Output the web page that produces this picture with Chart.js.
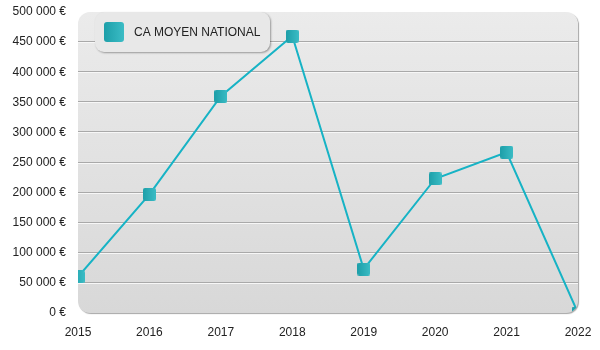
<!DOCTYPE html>
<html>
<head>
<meta charset="utf-8">
<script src="https://cdn.jsdelivr.net/npm/chart.js@4/dist/chart.umd.min.js"></script>
<style>
  html, body { margin: 0; padding: 0; background: #fff; }
  #wrap { width: 600px; height: 350px; }
</style>
</head>
<body>
<div id="wrap"><canvas id="caChart"></canvas></div>
<script>
const years = ['2015', '2016', '2017', '2018', '2019', '2020', '2021', '2022'];
const caMoyen = [60000, 197000, 360000, 460000, 73000, 223000, 267000, 0];
const seriesLabel = 'CA MOYEN NATIONAL';
const yMax = 500000;
const yStep = 50000;

const FONT = '"Liberation Sans", Arial, sans-serif';

function euros(v) {
    return String(v).replace(/\B(?=(\d{3})+(?!\d))/g, ' ') + ' €';
}

function roundRect(ctx, x, y, w, h, r) {
    ctx.beginPath();
    ctx.moveTo(x + r, y);
    ctx.lineTo(x + w - r, y);
    ctx.arcTo(x + w, y, x + w, y + r, r);
    ctx.lineTo(x + w, y + h - r);
    ctx.arcTo(x + w, y + h, x + w - r, y + h, r);
    ctx.lineTo(x + r, y + h);
    ctx.arcTo(x, y + h, x, y + h - r, r);
    ctx.lineTo(x, y + r);
    ctx.arcTo(x, y, x + r, y, r);
    ctx.closePath();
}

function tealGradient(ctx, x, y, size) {
    let g = ctx.createLinearGradient(x, y, x + size, y);
    g.addColorStop(0, '#1d9fa9');
    g.addColorStop(1, '#3bbcc5');
    return g;
}

// little rounded square used as the point marker
function makeMarker(size) {
    let c = document.createElement('canvas');
    c.width = size;
    c.height = size;
    let g = c.getContext('2d');
    g.fillStyle = tealGradient(g, 0, 0, size);
    roundRect(g, 0, 0, size, size, 2);
    g.fill();
    return c;
}

// grey rounded panel behind the plot, embossed grid lines, clipping and the legend box
const panel = {
    id: 'panel',
    beforeDraw(chart) {
        const { ctx, chartArea: a } = chart;
        ctx.save();
        ctx.shadowColor = 'rgba(0,0,0,0.35)';
        ctx.shadowOffsetX = 1;
        ctx.shadowOffsetY = 1;
        ctx.shadowBlur = 1;
        let bg = ctx.createLinearGradient(0, a.top, 0, a.bottom);
        bg.addColorStop(0, '#ebebeb');
        bg.addColorStop(1, '#d8d8d8');
        ctx.fillStyle = bg;
        roundRect(ctx, a.left, a.top, a.right - a.left, a.bottom - a.top, 12);
        ctx.fill();
        ctx.restore();

        const y = chart.scales.y;
        ctx.save();
        y.ticks.forEach(t => {
            if (t.value <= y.min || t.value >= y.max) return;
            let py = Math.round(y.getPixelForValue(t.value));
            ctx.fillStyle = '#a9a9a9';
            ctx.fillRect(a.left, py - 1, a.right - a.left, 1);
            ctx.fillStyle = '#f7f7f7';
            ctx.fillRect(a.left, py, a.right - a.left, 1);
        });
        ctx.restore();
    },
    beforeDatasetsDraw(chart) {
        const { ctx, chartArea: a } = chart;
        ctx.save();
        roundRect(ctx, a.left, a.top, a.right - a.left, a.bottom - a.top, 12);
        ctx.clip();
    },
    afterDatasetsDraw(chart) {
        chart.ctx.restore();
    },
    afterDraw(chart) {
        const { ctx, chartArea: a } = chart;
        const bx = a.left + 17, by = a.top, bw = 175, bh = 40;
        ctx.save();
        ctx.shadowColor = 'rgba(0,0,0,0.35)';
        ctx.shadowOffsetX = 1;
        ctx.shadowOffsetY = 1;
        ctx.shadowBlur = 2;
        ctx.fillStyle = '#e8e8e8';
        roundRect(ctx, bx, by, bw, bh, 9);
        ctx.fill();
        ctx.restore();

        ctx.save();
        ctx.fillStyle = tealGradient(ctx, bx + 9, by + 10, 20);
        roundRect(ctx, bx + 9, by + 10, 20, 20, 3);
        ctx.fill();
        ctx.fillStyle = '#222';
        ctx.font = '12px ' + FONT;
        ctx.textBaseline = 'middle';
        ctx.fillText(chart.data.datasets[0].label, bx + 39, by + 20.5);
        ctx.restore();
    }
};

new Chart(document.getElementById('caChart'), {
    type: 'line',
    data: {
        labels: years,
        datasets: [{
            label: seriesLabel,
            data: caMoyen,
            borderColor: '#17b3c5',
            borderWidth: 2,
            tension: 0,
            fill: false,
            pointStyle: makeMarker(13),
            pointRadius: 7,
            pointHoverRadius: 7
        }]
    },
    options: {
        responsive: true,
        maintainAspectRatio: false,
        animation: false,
        layout: { padding: { top: 12, right: 22, bottom: 0, left: 0 } },
        plugins: {
            legend: { display: false },
            tooltip: { enabled: false }
        },
        scales: {
            x: {
                grid: { display: false, drawTicks: false },
                border: { display: false },
                ticks: {
                    color: '#222',
                    font: { family: FONT, size: 12 },
                    padding: 12,
                    maxRotation: 0
                },
                afterFit(scale) {
                    scale.height = 37;
                    scale.paddingRight = 14;
                }
            },
            y: {
                min: 0,
                max: yMax,
                grid: { display: false, drawTicks: false },
                border: { display: false },
                ticks: {
                    stepSize: yStep,
                    color: '#222',
                    font: { family: FONT, size: 12 },
                    padding: 12,
                    callback: v => euros(v)
                },
                afterFit(scale) {
                    scale.width = 78;
                    scale.paddingTop = 6;
                    scale.paddingBottom = 6;
                }
            }
        }
    },
    plugins: [panel]
});
</script>
</body>
</html>
